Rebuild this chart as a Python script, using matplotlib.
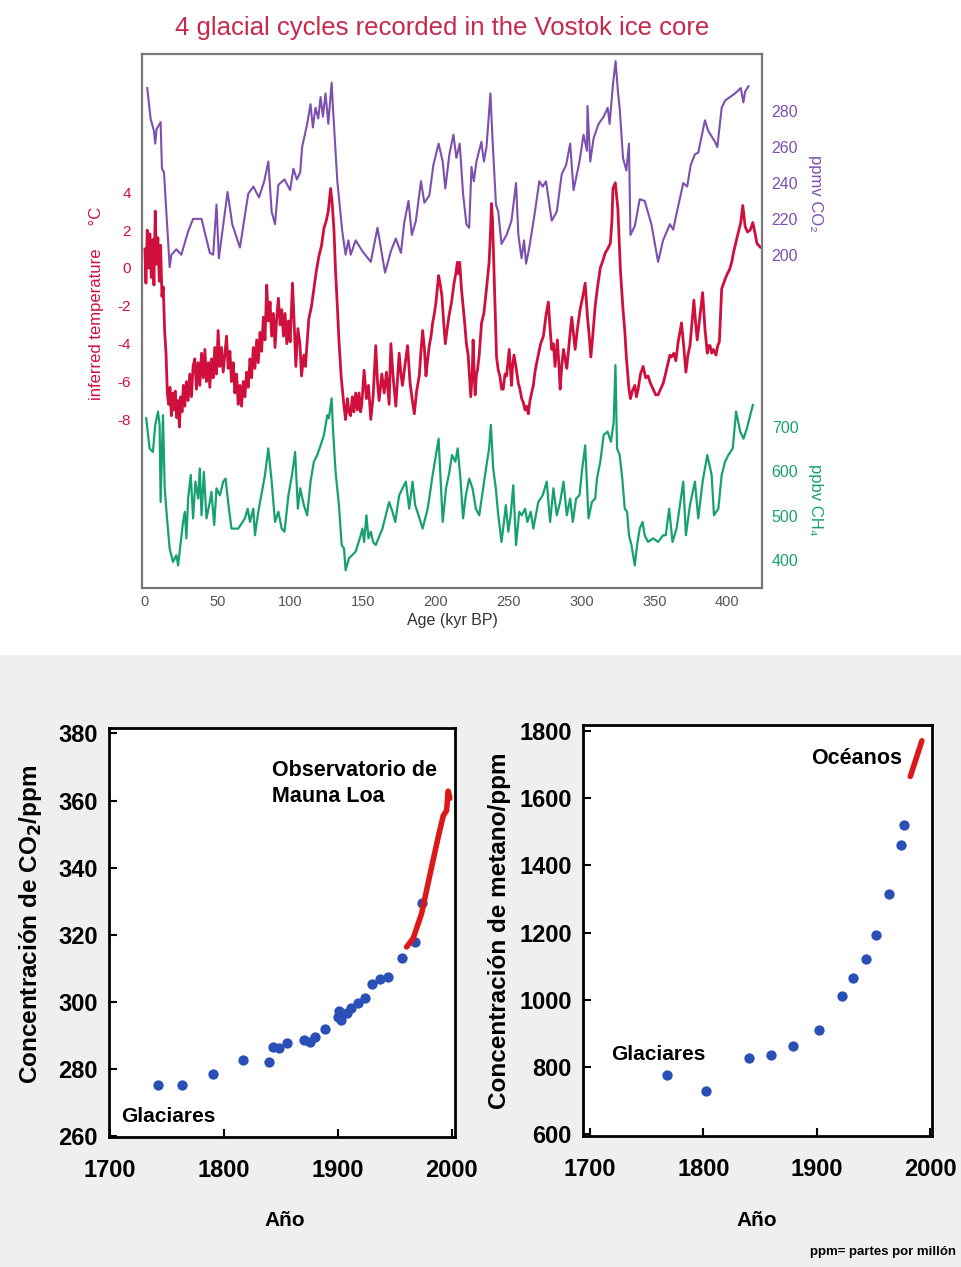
import matplotlib as mpl
import matplotlib.pyplot as plt
from matplotlib.patches import Rectangle

mpl.rcParams['font.family'] = ['Liberation Sans', 'DejaVu Sans']
mpl.rcParams['axes.unicode_minus'] = False

W, H = 961, 1267

RED = '#cf0f3c'
PURPLE = '#7d4fae'
GREEN = '#17a172'
TITLE_RED = '#c8284c'
DOT_BLUE = '#2a4fb6'
LINE_RED = '#dd1818'

# ---------------- Vostok ice core, age in kyr BP ----------------
co2_age = [1.6, 3.9, 6.2, 7.1, 8.0, 10.8, 11.7, 13.1, 17.0, 18.2,
           21.6, 25.0, 29.7, 33.1, 38.9, 44.6, 46.9, 49.2, 50.8, 56.8,
           60.0, 65.3, 71.0, 74.5, 78.4, 82.0, 84.8, 87.1, 89.4, 91.7,
           95.9, 99.8, 102.0, 104.4, 106.7, 108.0, 111.5, 113.8, 115.4, 117.2,
           119.1, 120.7, 122.3, 124.1, 126.0, 128.3, 129.2, 132.2, 135.6, 137.9,
           139.8, 141.4, 144.8, 149.4, 155.2, 159.8, 165.0, 169.0, 172.4, 175.9,
           178.2, 181.1, 183.4, 186.2, 189.7, 192.0, 195.4, 198.2, 201.8, 204.6,
           206.4, 209.2, 212.0, 214.0, 216.3, 218.6, 220.9, 222.8, 224.4, 226.0,
           227.8, 231.2, 232.9, 234.7, 237.4, 238.8, 241.2, 242.8, 245.0, 248.5,
           251.9, 255.0, 256.6, 258.8, 260.5, 261.9, 264.1, 268.0, 271.0, 273.3,
           275.6, 279.5, 283.0, 286.4, 289.4, 292.2, 294.5, 298.6, 301.4, 303.7,
           304.1, 306.0, 308.3, 311.7, 315.2, 318.0, 319.3, 321.6, 323.4, 325.0,
           326.2, 328.5, 330.8, 332.6, 333.6, 336.6, 340.0, 343.4, 348.0, 352.6,
           356.0, 360.7, 363.0, 365.3, 369.9, 372.6, 375.0, 377.9, 380.2, 384.8,
           387.1, 391.7, 393.3, 396.3, 398.6, 405.5, 409.4, 411.2, 412.4, 414.7]
co2_ppmv = [293, 276, 269, 262, 270, 274, 248, 246, 193, 200,
            203, 200, 213, 220, 220, 201, 200, 228, 198, 235,
            217, 204, 234, 238, 232, 241, 252, 224, 217, 239,
            242, 236, 248, 242, 246, 260, 273, 284, 271, 282,
            276, 288, 277, 290, 273, 296, 282, 241, 213, 200,
            208, 200, 208, 202, 196, 215, 190, 202, 209, 201,
            218, 230, 211, 219, 241, 229, 233, 250, 262, 252,
            237, 256, 267, 254, 262, 234, 217, 215, 249, 241,
            252, 263, 252, 260, 290, 265, 228, 224, 206, 211,
            219, 240, 211, 198, 208, 195, 204, 224, 241, 238,
            241, 219, 224, 245, 250, 262, 236, 252, 267, 258,
            283, 252, 265, 273, 277, 282, 273, 295, 308, 291,
            282, 254, 247, 262, 211, 216, 231, 230, 217, 196,
            208, 217, 214, 223, 240, 238, 250, 256, 257, 275,
            269, 263, 260, 282, 286, 290, 293, 285, 291, 294]

temp_age = [0.0, 0.7, 1.6, 2.5, 3.4, 4.4, 5.3, 6.2, 7.1, 8.0,
            8.9, 9.9, 10.8, 11.7, 12.6, 13.6, 14.5, 15.4, 16.3, 17.2,
            18.2, 19.1, 20.0, 20.9, 21.8, 22.8, 23.7, 24.6, 25.5, 26.4,
            27.4, 28.5, 29.7, 30.8, 32.0, 33.1, 34.3, 35.4, 36.6, 37.7,
            38.9, 40.1, 41.2, 42.3, 43.6, 44.6, 45.7, 46.9, 48.0, 49.2,
            50.3, 51.5, 52.6, 53.8, 54.9, 56.1, 57.2, 58.4, 59.5, 60.7,
            61.8, 63.0, 64.1, 65.3, 66.4, 67.6, 68.7, 69.9, 71.0, 72.2,
            73.3, 74.5, 75.6, 76.8, 77.9, 79.1, 80.2, 81.4, 82.5, 83.7,
            84.8, 86.0, 87.1, 88.3, 89.4, 90.6, 91.7, 92.9, 94.0, 95.2,
            96.3, 97.5, 98.6, 99.8, 101.4, 102.5, 103.7, 105.1, 106.5, 107.6,
            109.2, 110.3, 112.6, 114.5, 116.1, 117.7, 119.5, 121.4, 123.0, 124.6,
            126.0, 127.6, 128.7, 129.9, 131.0, 132.2, 133.3, 134.9, 136.8, 137.9,
            139.1, 140.2, 141.3, 142.5, 143.6, 144.8, 146.0, 147.1, 148.2, 149.0,
            150.6, 152.2, 153.6, 155.2, 156.8, 158.6, 159.8, 160.9, 162.8, 164.4,
            166.0, 167.8, 169.0, 170.6, 172.4, 173.6, 174.7, 175.9, 177.0, 178.9,
            180.5, 182.1, 183.4, 185.1, 186.7, 188.5, 189.7, 190.8, 192.0, 193.1,
            194.3, 195.4, 196.6, 197.7, 198.9, 200.0, 201.8, 203.0, 204.1, 205.2,
            206.4, 207.7, 209.0, 210.7, 212.4, 213.6, 214.7, 215.5, 216.3, 217.5,
            218.6, 219.7, 220.9, 222.1, 223.2, 223.9, 224.9, 225.5, 226.2, 226.9,
            227.8, 228.5, 229.7, 231.3, 232.9, 234.7, 236.5, 237.5, 238.1, 238.8,
            239.3, 240.4, 241.6, 242.8, 243.9, 245.1, 246.2, 247.4, 248.5, 249.7,
            250.3, 251.3, 251.9, 252.6, 253.6, 254.9, 256.6, 257.7, 258.9, 260.0,
            261.2, 262.3, 263.4, 264.6, 265.7, 266.9, 268.0, 269.2, 270.3, 271.9,
            273.8, 275.6, 277.2, 278.4, 279.5, 280.7, 281.8, 283.4, 284.4, 285.3,
            286.4, 287.6, 288.7, 289.9, 291.7, 293.3, 294.5, 295.6, 297.2, 299.0,
            300.9, 302.5, 304.1, 305.2, 306.4, 307.8, 309.4, 311.0, 312.9, 314.7,
            316.3, 317.9, 319.8, 320.9, 321.6, 323.2, 325.0, 326.7, 328.5, 329.7,
            330.8, 332.0, 332.6, 333.6, 334.9, 336.6, 337.7, 338.9, 340.5, 342.3,
            344.1, 345.7, 347.4, 349.2, 351.0, 352.6, 354.3, 356.1, 358.0, 359.5,
            360.7, 361.8, 363.4, 364.8, 366.4, 367.6, 368.7, 370.3, 371.7, 373.1,
            374.5, 375.9, 377.2, 378.4, 379.5, 381.4, 383.2, 384.8, 386.4, 387.4,
            388.3, 389.4, 390.6, 392.4, 393.6, 394.7, 396.3, 398.6, 400.2, 401.6,
            403.2, 404.4, 406.2, 407.8, 409.4, 410.8, 412.4, 414.0, 415.9, 417.7,
            419.3, 420.5, 422.8]
temp_c = [1.0, -0.8, 2.0, 0.0, 1.8, -0.5, 1.5, -0.9, 3.0, 0.2,
          1.6, -0.7, 1.2, -1.5, -1.0, -3.4, -4.5, -6.6, -7.2, -6.3,
          -7.8, -6.6, -7.5, -6.5, -7.9, -7.0, -8.4, -6.8, -7.6, -6.2,
          -7.3, -6.0, -7.0, -5.6, -6.8, -5.2, -4.8, -6.4, -5.0, -6.2,
          -4.5, -5.8, -4.3, -6.0, -5.0, -6.3, -4.8, -5.8, -4.2, -5.6,
          -3.3, -5.2, -4.2, -5.5, -4.6, -3.6, -5.3, -4.4, -6.0, -5.0,
          -6.6, -5.6, -7.2, -6.2, -7.3, -6.0, -6.8, -5.5, -6.3, -4.8,
          -5.8, -4.2, -5.3, -3.8, -5.0, -3.4, -4.4, -2.6, -3.8, -0.9,
          -2.8, -1.8, -3.6, -2.4, -4.2, -2.6, -1.6, -3.0, -2.2, -3.6,
          -2.4, -4.0, -2.8, -3.9, -0.8, -2.8, -5.2, -3.2, -4.0, -5.7,
          -4.6, -5.2, -2.7, -2.0, -1.1, -0.2, 0.6, 1.2, 2.1, 2.5,
          3.0, 4.2, 3.4, 2.0, -0.2, -2.0, -3.8, -5.8, -7.3, -8.0,
          -6.9, -7.6, -7.8, -6.8, -7.6, -6.6, -7.5, -6.6, -7.6, -7.2,
          -5.4, -6.9, -6.2, -8.0, -6.8, -4.1, -6.0, -7.0, -5.6, -6.6,
          -5.5, -7.2, -4.0, -5.8, -7.3, -5.8, -4.5, -5.6, -6.2, -5.0,
          -4.1, -6.0, -6.8, -7.7, -6.5, -5.7, -4.4, -3.3, -4.2, -5.7,
          -4.8, -4.1, -3.6, -2.9, -2.4, -1.8, -0.4, -0.9, -1.5, -2.8,
          -4.0, -3.2, -2.5, -1.8, -0.8, -0.3, 0.3, -0.3, 0.3, -1.1,
          -2.0, -2.9, -4.0, -4.6, -6.0, -6.8, -5.6, -3.8, -5.4, -6.7,
          -5.6, -5.4, -4.6, -2.9, -2.4, -1.1, 0.3, 2.0, 3.4, 2.6,
          1.3, -1.5, -4.7, -5.4, -5.7, -6.4, -6.4, -5.6, -5.7, -4.8,
          -4.3, -5.5, -6.2, -5.2, -4.6, -5.2, -6.1, -6.4, -6.9, -7.1,
          -7.5, -7.3, -7.7, -7.0, -6.6, -6.2, -5.5, -5.0, -4.6, -4.0,
          -3.6, -2.5, -1.8, -3.2, -4.3, -4.0, -5.2, -3.8, -5.0, -6.4,
          -5.2, -4.3, -4.8, -5.3, -3.8, -2.6, -3.5, -4.3, -3.2, -2.2,
          -1.5, -0.8, -2.6, -3.5, -4.7, -3.5, -2.0, -1.0, 0.0, 0.4,
          0.8, 1.0, 1.3, 2.5, 4.2, 4.5, 3.1, -0.1, -2.2, -3.3,
          -4.7, -5.8, -6.4, -6.9, -6.5, -6.2, -6.8, -6.4, -5.6, -5.2,
          -5.8, -5.7, -6.1, -6.4, -6.7, -6.7, -6.4, -6.1, -5.5, -5.0,
          -4.6, -4.7, -4.5, -4.9, -3.9, -3.4, -2.9, -4.2, -5.5, -4.6,
          -4.1, -2.9, -1.7, -2.9, -3.8, -2.5, -1.3, -3.2, -4.5, -4.1,
          -4.1, -4.5, -4.3, -4.6, -4.1, -3.9, -1.1, -0.6, -0.3, -0.1,
          0.3, 0.8, 1.4, 1.9, 2.4, 3.3, 2.2, 1.9, 2.0, 2.4,
          1.8, 1.3, 1.1]

ch4_age = [0.9, 3.2, 5.5, 7.1, 9.0, 10.1, 10.8, 12.4, 13.6, 15.4,
           17.0, 19.3, 21.6, 22.8, 24.6, 26.2, 27.4, 28.5, 29.7, 31.5,
           33.1, 34.7, 36.6, 37.7, 38.9, 40.5, 42.3, 44.6, 45.7, 47.6,
           49.2, 51.5, 53.8, 55.4, 57.7, 59.5, 64.1, 68.7, 70.6, 72.2,
           74.5, 75.6, 77.9, 82.5, 84.8, 87.1, 89.4, 91.7, 94.0, 95.9,
           98.6, 101.4, 103.2, 105.1, 106.7, 109.2, 111.5, 113.8, 116.1, 118.4,
           120.7, 123.0, 125.3, 126.4, 128.3, 129.2, 131.0, 133.3, 135.2, 136.8,
           137.9, 140.2, 144.8, 148.3, 149.4, 150.6, 152.2, 153.6, 155.2, 156.8,
           158.6, 163.2, 167.8, 170.1, 172.0, 174.7, 177.0, 179.3, 181.6, 183.9,
           185.7, 188.0, 190.8, 194.3, 197.7, 201.8, 204.6, 206.9, 209.2, 211.0,
           213.3, 214.9, 216.8, 218.6, 220.5, 222.8, 225.1, 227.4, 229.7, 232.4,
           234.7, 236.5, 237.7, 239.3, 241.1, 242.8, 245.0, 246.7, 248.0, 249.7,
           251.3, 253.1, 255.0, 257.2, 258.9, 261.2, 262.8, 265.1, 266.9, 270.3,
           273.3, 276.1, 278.4, 280.7, 283.0, 285.3, 287.6, 289.9, 292.2, 294.0,
           296.3, 298.6, 300.2, 302.5, 304.8, 307.1, 309.4, 310.6, 312.9, 315.2,
           317.9, 320.2, 322.1, 323.3, 324.4, 326.2, 328.0, 329.7, 331.3, 332.6,
           334.3, 336.6, 338.2, 340.0, 341.9, 343.4, 345.7, 349.2, 352.6, 356.1,
           357.9, 360.2, 362.5, 365.3, 367.6, 369.9, 371.7, 374.5, 377.9, 380.2,
           383.2, 386.4, 389.4, 391.0, 394.0, 396.3, 398.6, 400.9, 403.9, 406.2,
           409.0, 411.3, 413.6, 415.9, 417.7]
ch4_ppbv = [720, 652, 644, 705, 735, 705, 531, 727, 562, 486,
            426, 396, 411, 388, 441, 486, 509, 449, 539, 592,
            494, 577, 539, 607, 501, 599, 494, 531, 554, 479,
            562, 546, 577, 584, 516, 471, 471, 494, 516, 486,
            516, 456, 509, 592, 652, 577, 486, 509, 471, 464,
            546, 599, 644, 516, 562, 524, 501, 577, 622, 637,
            659, 682, 727, 720, 765, 697, 599, 524, 434, 426,
            377, 404, 419, 456, 471, 441, 501, 449, 464, 441,
            434, 471, 531, 509, 486, 546, 562, 577, 516, 577,
            524, 501, 471, 516, 592, 674, 486, 562, 599, 637,
            622, 652, 584, 494, 546, 584, 562, 516, 501, 562,
            614, 652, 705, 607, 562, 501, 441, 486, 524, 464,
            501, 569, 434, 509, 501, 516, 486, 509, 471, 531,
            546, 577, 486, 562, 501, 531, 577, 501, 539, 486,
            539, 546, 599, 659, 494, 531, 539, 584, 622, 682,
            690, 667, 712, 840, 652, 637, 584, 516, 509, 456,
            434, 388, 434, 471, 486, 456, 441, 449, 441, 456,
            456, 516, 441, 471, 524, 577, 456, 524, 577, 494,
            577, 637, 592, 501, 516, 592, 622, 637, 652, 735,
            690, 674, 697, 727, 750]

age_ticks = [0, 50, 100, 150, 200, 250, 300, 350, 400]
temp_ticks = [-8, -6, -4, -2, 0, 2, 4]
co2_ticks = [200, 220, 240, 260, 280]
ch4_ticks = [400, 500, 600, 700]

# ---------------- recent records (glaciers + direct measurement) ----------------
co2_year = [1742, 1763, 1790, 1817, 1840, 1843, 1848, 1855, 1870, 1876, 1880, 1889,
            1900, 1901, 1903, 1908, 1912, 1918, 1924, 1930, 1937, 1944, 1956, 1968, 1974]
co2_ppm = [275.4, 275.4, 278.6, 282.7, 282.2, 286.7, 286.2, 287.7, 288.8, 288.2, 289.6, 291.9,
           295.6, 297.4, 294.5, 296.6, 298.2, 299.7, 301.3, 305.3, 307.0, 307.5, 313.0, 318.0, 329.4]
mlo_year = [1960.5, 1966.3, 1973.6, 1980.9, 1988.3, 1992.7, 1995.6, 1997.0, 1998.5]
mlo_ppm = [316.4, 319.0, 326.3, 337.8, 349.2, 355.5, 357.0, 362.8, 360.7]

ch4_year = [1768, 1802, 1840, 1860, 1879, 1902, 1922, 1932, 1943, 1952, 1964, 1974, 1977]
ch4_ppb = [776, 729, 827, 837, 864, 911, 1011, 1066, 1122, 1192, 1314, 1461, 1520]
ocean_year = [1982.4, 1992.6]
ocean_ppb = [1664, 1770]

year_ticks = [1700, 1800, 1900, 2000]
co2_ppm_ticks = [260, 280, 300, 320, 340, 360, 380]
ch4_ppb_ticks = [600, 800, 1000, 1200, 1400, 1600, 1800]


def fx(px):
    return px / W


def fy(py):
    return 1 - py / H


def box(left, top, right, bottom):
    return [fx(left), fy(bottom), (right - left) / W, (bottom - top) / H]


fig = plt.figure(figsize=(W / 100, H / 100), dpi=100)
fig.patch.set_facecolor('white')
# light grey backing behind the lower pair of panels
fig.patches.append(Rectangle((0, 0), 1, fy(655), transform=fig.transFigure,
                             facecolor='#efefef', edgecolor='none', zorder=-10))

# ===================== top: Vostok record =====================
ax_t = fig.add_axes(box(142, 54, 762, 588))
ax_c = ax_t.twinx()
ax_m = ax_t.twinx()

ax_m.plot(ch4_age, ch4_ppbv, color=GREEN, lw=1.6)
ax_t.plot(temp_age, temp_c, color=RED, lw=2.0)
ax_c.plot(co2_age, co2_ppmv, color=PURPLE, lw=1.5)

ax_t.set_xlim(-2, 424)
ax_t.set_ylim(-16.9, 11.3)
ax_c.set_ylim(14, 312)
ax_m.set_ylim(337, 1542)

for s in ax_t.spines.values():
    s.set_color('#777777')
    s.set_linewidth(1.6)
for a in (ax_c, ax_m):
    for s in a.spines.values():
        s.set_visible(False)

ax_t.set_xticks(age_ticks)
ax_t.tick_params(axis='x', length=0, pad=5, labelsize=10.5, labelcolor='#555555')
ax_t.set_yticks(temp_ticks)
ax_t.tick_params(axis='y', length=0, pad=8, labelsize=11, labelcolor=RED)
ax_c.set_yticks(co2_ticks)
ax_c.tick_params(axis='y', length=0, pad=7, labelsize=11.5, labelcolor=PURPLE)
ax_m.set_yticks(ch4_ticks)
ax_m.tick_params(axis='y', length=0, pad=7, labelsize=11.5, labelcolor=GREEN)
ax_t.set_xlabel('Age (kyr BP)', fontsize=11.5, color='#333333', labelpad=3)

fig.text(fx(442), fy(28), '4 glacial cycles recorded in the Vostok ice core',
         ha='center', va='center', fontsize=18.5, color=TITLE_RED)
fig.text(fx(96), fy(303), 'inferred temperature     \u00b0C', rotation=90,
         ha='center', va='center', fontsize=12, color=RED)
fig.text(fx(815), fy(193), 'ppmv CO\u2082', rotation=-90,
         ha='center', va='center', fontsize=12, color=PURPLE)
fig.text(fx(815), fy(500), 'ppbv CH\u2084', rotation=-90,
         ha='center', va='center', fontsize=12, color=GREEN)


# ===================== bottom panels =====================
def style_panel(ax, xlim, ylim, yticks):
    ax.set_facecolor('white')
    ax.set_xlim(*xlim)
    ax.set_ylim(*ylim)
    ax.set_xticks(year_ticks)
    ax.set_yticks(yticks)
    ax.tick_params(direction='in', length=6, width=1.5, labelsize=17)
    ax.tick_params(axis='x', pad=16)
    ax.tick_params(axis='y', pad=8)
    for lab in ax.get_xticklabels() + ax.get_yticklabels():
        lab.set_fontweight('bold')
    for s in ax.spines.values():
        s.set_color('black')
        s.set_linewidth(2)


ax1 = fig.add_axes(box(109, 728, 455, 1137))
style_panel(ax1, (1699, 2003), (259.8, 381.6), co2_ppm_ticks)
ax1.scatter(co2_year, co2_ppm, s=55, color=DOT_BLUE, zorder=3, linewidths=0)
ax1.plot(mlo_year, mlo_ppm, color=LINE_RED, lw=4, solid_capstyle='round', zorder=4)
ax1.text(0.47, 0.922, 'Observatorio de\nMauna Loa', transform=ax1.transAxes,
         ha='left', va='top', fontsize=15.5, fontweight='bold', linespacing=1.3)
ax1.text(0.034, 0.05, 'Glaciares', transform=ax1.transAxes,
         ha='left', va='center', fontsize=15, fontweight='bold')
ax1.text(-0.226, 0.52, 'Concentración de CO$_\\mathbf{2}$/ppm', transform=ax1.transAxes,
         rotation=90, ha='center', va='center', fontsize=17.5, fontweight='bold')
ax1.text(0.508, -0.18, 'Año', transform=ax1.transAxes,
         ha='center', va='top', fontsize=15, fontweight='bold')

ax2 = fig.add_axes(box(583, 725, 932, 1136))
style_panel(ax2, (1694, 2001.5), (595, 1817), ch4_ppb_ticks)
ax2.scatter(ch4_year, ch4_ppb, s=55, color=DOT_BLUE, zorder=3, linewidths=0)
ax2.plot(ocean_year, ocean_ppb, color=LINE_RED, lw=4, solid_capstyle='round', zorder=4)
ax2.text(0.915, 0.919, 'Océanos', transform=ax2.transAxes,
         ha='right', va='center', fontsize=15.5, fontweight='bold')
ax2.text(0.0795, 0.199, 'Glaciares', transform=ax2.transAxes,
         ha='left', va='center', fontsize=15, fontweight='bold')
ax2.text(-0.239, 0.50, 'Concentración de metano/ppm', transform=ax2.transAxes,
         rotation=90, ha='center', va='center', fontsize=17.5, fontweight='bold')
ax2.text(0.498, -0.182, 'Año', transform=ax2.transAxes,
         ha='center', va='top', fontsize=15, fontweight='bold')

fig.text(fx(956), fy(1252), 'ppm= partes por millón', ha='right', va='center',
         fontsize=9.5, fontweight='bold')

fig.savefig('out.png', dpi=100)
